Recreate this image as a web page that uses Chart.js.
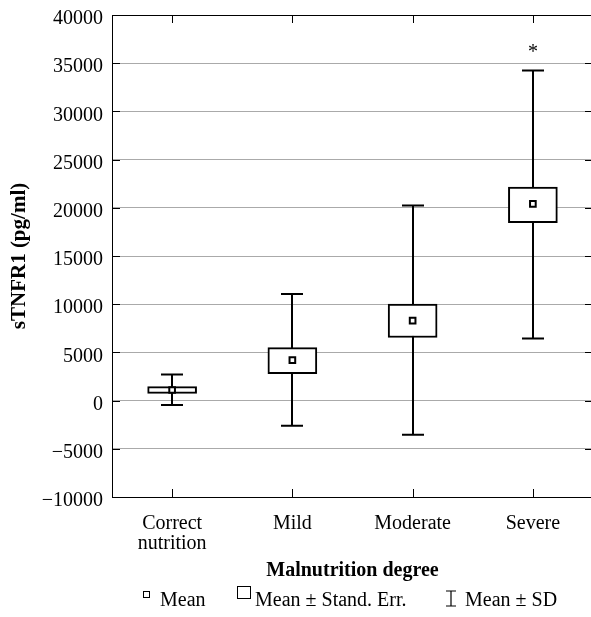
<!DOCTYPE html>
<html>
<head>
<meta charset="utf-8">
<script src="https://cdn.jsdelivr.net/npm/chart.js@4.4.0/dist/chart.umd.min.js"></script>
<style>
  html, body { margin: 0; padding: 0; background: #fff; overflow: hidden; }
  #wrap { position: relative; width: 600px; height: 617px; }
  .legend { font: 20px "Liberation Serif", "Times New Roman", serif; color: #000; }
  .lg-text { position: absolute; top: 589px; line-height: 20px; white-space: nowrap; }
  .sym { position: absolute; box-sizing: border-box; border: 1px solid #000; }
</style>
</head>
<body>
<div id="wrap">
  <canvas id="chart" width="600" height="617" style="width:600px;height:617px"></canvas>
  <div class="legend">
    <div class="sym" style="left:143px;top:591px;width:7px;height:7px"></div>
    <div class="lg-text" style="left:160px">Mean</div>
    <div class="sym" style="left:237px;top:586px;width:14px;height:13px"></div>
    <div class="lg-text" style="left:255px">Mean ± Stand. Err.</div>
    <svg style="position:absolute;left:446px;top:590px" width="11" height="17">
      <path d="M0 1 H10 M5 1 V16 M0 16 H10" stroke="#000" stroke-width="1.2" fill="none"/>
    </svg>
    <div class="lg-text" style="left:465px">Mean ± SD</div>
  </div>
</div>
<script>
// 데이터
const categories = [["Correct", "nutrition"], "Mild", "Moderate", "Severe"];
const meanValues = [1100, 4200, 8300, 20400];
const seLow  = [750, 2800, 6550, 18450];
const seHigh = [1450, 5500, 10000, 22150];
const sdLow  = [-450, -2600, -3550, 6450];
const sdHigh = [2700, 11050, 20250, 34250];
const significant = [false, false, false, true];

const yMin = -10000, yMax = 40000, yStep = 5000;

const serif = '"Liberation Serif", "Times New Roman", serif';

// 에러바 + 테두리 + 안쪽 눈금
const whiskerPlugin = {
  id: 'whiskers',
  beforeDatasetsDraw(chart) {
    const { ctx, scales: { x, y } } = chart;
    ctx.save();
    ctx.strokeStyle = '#000';
    ctx.lineWidth = 2;
    categories.forEach((c, i) => {
      const cx = Math.round(x.getPixelForValue(i));
      const top = y.getPixelForValue(sdHigh[i]);
      const bot = y.getPixelForValue(sdLow[i]);
      ctx.beginPath();
      ctx.moveTo(cx, top); ctx.lineTo(cx, bot);
      ctx.moveTo(cx - 11, top); ctx.lineTo(cx + 11, top);
      ctx.moveTo(cx - 11, bot); ctx.lineTo(cx + 11, bot);
      ctx.stroke();
    });
    ctx.restore();
  },
  afterDatasetsDraw(chart) {
    const { ctx, chartArea: a, scales: { x, y } } = chart;
    ctx.save();
    ctx.strokeStyle = '#000';
    ctx.lineWidth = 1;
    ctx.strokeRect(a.left + 0.5, a.top + 0.5, a.right - a.left, a.bottom - a.top);
    ctx.beginPath();
    y.ticks.forEach(t => {
      const py = Math.round(y.getPixelForValue(t.value)) + 0.5;
      ctx.moveTo(a.left, py); ctx.lineTo(a.left + 8, py);
      ctx.moveTo(a.right - 8, py); ctx.lineTo(a.right, py);
    });
    categories.forEach((c, i) => {
      const px = Math.round(x.getPixelForValue(i)) + 0.5;
      ctx.moveTo(px, a.top); ctx.lineTo(px, a.top + 8);
      ctx.moveTo(px, a.bottom - 8); ctx.lineTo(px, a.bottom);
    });
    ctx.stroke();

    // 유의성 표시
    ctx.fillStyle = '#000';
    ctx.font = '20px ' + serif;
    ctx.textAlign = 'center';
    significant.forEach((s, i) => {
      if (!s) return;
      ctx.fillText('*', x.getPixelForValue(i), y.getPixelForValue(sdHigh[i]) - 12);
    });
    ctx.restore();
  }
};

new Chart(document.getElementById('chart'), {
  type: 'bar',
  data: {
    labels: categories,
    datasets: [
      {
        type: 'line',
        data: meanValues,
        showLine: false,
        pointStyle: 'rect',
        pointRadius: 4,
        pointBackgroundColor: '#fff',
        pointBorderColor: '#000',
        pointBorderWidth: 2,
        order: 0
      },
      {
        type: 'bar',
        data: seLow.map((lo, i) => [lo, seHigh[i]]),
        backgroundColor: '#fff',
        borderColor: '#000',
        borderWidth: 2,
        borderSkipped: false,
        barThickness: 49,
        order: 1
      }
    ]
  },
  options: {
    responsive: false,
    animation: false,
    layout: { padding: { top: 15, right: 7, bottom: 34, left: 0 } },
    plugins: {
      legend: { display: false },
      tooltip: { enabled: false }
    },
    scales: {
      x: {
        grid: { display: false },
        border: { color: '#000' },
        ticks: {
          color: '#000',
          padding: 9,
          font: { family: serif, size: 20, lineHeight: 1 }
        },
        title: {
          display: true,
          text: 'Malnutrition degree',
          color: '#000',
          padding: 0,
          font: { family: serif, size: 20, weight: 'bold' }
        },
        afterFit: (s) => { s.height = 86; s.paddingLeft = 0; s.paddingRight = 0; }
      },
      y: {
        min: yMin,
        max: yMax,
        grid: { color: '#aaaaaa', drawTicks: false },
        border: { color: '#000' },
        ticks: {
          stepSize: yStep,
          color: '#000',
          padding: 9,
          labelOffset: 4,
          font: { family: serif, size: 20 },
          callback: (v) => String(v).replace('-', '\u2212')
        },
        title: {
          display: true,
          text: 'sTNFR1 (pg/ml)',
          color: '#000',
          padding: { top: 7, bottom: 0 },
          font: { family: serif, size: 21, weight: 'bold' }
        },
        afterFit: (s) => { s.width = 112; s.paddingTop = 0; s.paddingBottom = 0; }
      }
    }
  },
  plugins: [whiskerPlugin]
});
</script>
</body>
</html>
